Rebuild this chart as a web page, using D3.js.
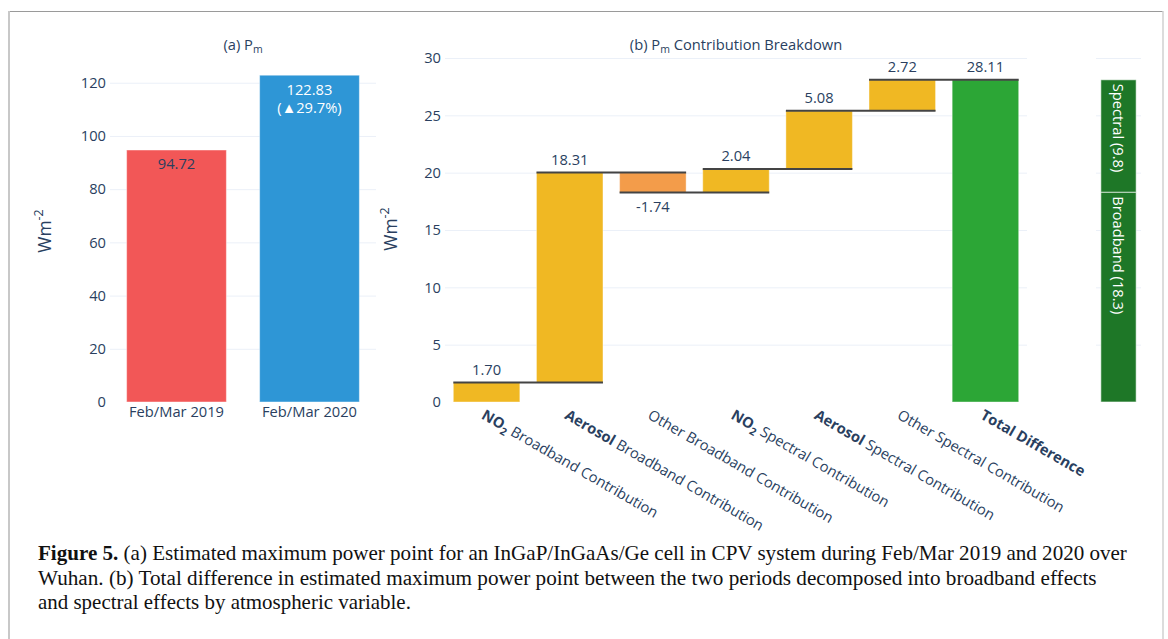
<!DOCTYPE html>
<html>
<head>
<meta charset="utf-8">
<script src="https://cdn.jsdelivr.net/npm/d3@7"></script>
<style>
  html, body { margin: 0; padding: 0; background: #fff; }
  svg { display: block; }
  .tick text { font-family: "Open Sans", sans-serif; font-size: 14.7px; fill: #2a3f5f; }
</style>
</head>
<body>
<svg id="chart" width="1168" height="639"></svg>
<script>
// ---- data ----
const periods = ["Feb/Mar 2019", "Feb/Mar 2020"];
const pmValues = [94.72, 122.83];
const pmTicks = [0, 20, 40, 60, 80, 100, 120];

const contribCategories = [
  "NO2 Broadband Contribution",
  "Aerosol Broadband Contribution",
  "Other Broadband Contribution",
  "NO2 Spectral Contribution",
  "Aerosol Spectral Contribution",
  "Other Spectral Contribution"
];
const totalCategory = "Total Difference";
const contribValues = [1.70, 18.31, -1.74, 2.04, 5.08, 2.72];
const contribTicks = [0, 5, 10, 15, 20, 25, 30];

const splitLabels = ["Broadband", "Spectral"];
const splitValues = [18.3, 9.8];

const captionLines = [
  [["Figure 5.", true], [" (a) Estimated maximum power point for an InGaP/InGaAs/Ge cell in CPV system during Feb/Mar 2019 and 2020 over", false]],
  [["Wuhan. (b) Total difference in estimated maximum power point between the two periods decomposed into broadband effects", false]],
  [["and spectral effects by atmospheric variable.", false]]
];

// ---- styles ----
const textColor = "#2a3f5f";
const gridColor = "#EBF0F8";
const pmColors = ["#F25757", "#2E96D6"];
const riseColor = "#F0B823";
const fallColor = "#F39C4A";
const totalColor = "#2CA636";
const splitColor = "#1E7727";
const font = "'Open Sans', sans-serif";
const fs = 14.7;

const svg = d3.select("#chart");

// frame
svg.append("line").attr("x1", 8).attr("x2", 1163).attr("y1", 11.5).attr("y2", 11.5)
  .attr("stroke", "#9a9a9a").attr("stroke-width", 1);
svg.append("line").attr("x1", 9).attr("x2", 9).attr("y1", 11).attr("y2", 639)
  .attr("stroke", "#c8c8c8").attr("stroke-width", 2);
svg.append("line").attr("x1", 1163).attr("x2", 1163).attr("y1", 11).attr("y2", 639)
  .attr("stroke", "#d0d0d0").attr("stroke-width", 1.5);

const plotTop = 58, plotBottom = 402;

function gridAxis(g, scale, ticks, x0, x1, showLabels, hideZero) {
  const axis = d3.axisLeft(scale).tickValues(ticks).tickSize(-(x1 - x0)).tickPadding(4);
  if (!showLabels) axis.tickFormat("");
  const a = g.append("g").attr("transform", `translate(${x0},0)`).call(axis);
  a.select(".domain").remove();
  a.selectAll(".tick line").attr("stroke", gridColor).attr("stroke-width", 1)
    .attr("opacity", d => (hideZero && d === 0) ? 0 : 1);
  a.selectAll(".tick text").attr("fill", textColor);
  return a;
}

function titleWithSub(x, y, pre, sub, post) {
  const t = svg.append("text").attr("x", x).attr("y", y).attr("text-anchor", "middle")
    .attr("font-family", font).attr("font-size", fs).attr("fill", textColor);
  t.append("tspan").text(pre);
  t.append("tspan").attr("font-size", 10.5).attr("dy", 3).text(sub);
  if (post) t.append("tspan").attr("dy", -3).text(post);
}

function unitTitle(x, y) {
  const t = svg.append("text").attr("transform", `translate(${x},${y}) rotate(-90)`)
    .attr("text-anchor", "middle").attr("font-family", font).attr("font-size", 17.5).attr("fill", textColor);
  t.append("tspan").text("Wm");
  t.append("tspan").attr("font-size", 12.5).attr("dy", -8).text("-2");
}

// ---- (a) Pm ----
const xA = d3.scaleBand().domain(periods).range([110, 376]).paddingInner(0.25).paddingOuter(0.125);
const yA = d3.scaleLinear().domain([0, 129.3]).range([plotBottom, plotTop]);
const gA = svg.append("g");
gridAxis(gA, yA, pmTicks, 110, 376, true, true);

gA.selectAll("rect.pm").data(periods).join("rect")
  .attr("x", d => xA(d)).attr("width", xA.bandwidth())
  .attr("y", (d, i) => yA(pmValues[i])).attr("height", (d, i) => yA(0) - yA(pmValues[i]))
  .attr("fill", (d, i) => pmColors[i])
  .attr("stroke", "rgba(255,255,255,0.45)").attr("stroke-width", 1);

const pctChange = (pmValues[1] / pmValues[0] - 1) * 100;
gA.append("text").attr("x", xA(periods[0]) + xA.bandwidth() / 2).attr("y", yA(pmValues[0]) + 19)
  .attr("text-anchor", "middle").attr("font-family", font).attr("font-size", fs).attr("fill", textColor)
  .text(pmValues[0].toFixed(2));
const lbl2 = gA.append("text").attr("text-anchor", "middle").attr("font-family", font)
  .attr("font-size", fs).attr("fill", "#fff");
const cx2 = xA(periods[1]) + xA.bandwidth() / 2;
lbl2.append("tspan").attr("x", cx2).attr("y", yA(pmValues[1]) + 19.5).text(pmValues[1].toFixed(2));
lbl2.append("tspan").attr("x", cx2).attr("y", yA(pmValues[1]) + 38).text(`(\u25B2${pctChange.toFixed(1)}%)`);

gA.selectAll("text.xlab").data(periods).join("text")
  .attr("x", d => xA(d) + xA.bandwidth() / 2).attr("y", 417)
  .attr("text-anchor", "middle").attr("font-family", font).attr("font-size", fs).attr("fill", textColor)
  .text(d => d);

titleWithSub(243, 50, "(a) P", "m");
unitTitle(51, 231);

// ---- (b) waterfall ----
const allCats = contribCategories.concat([totalCategory]);
const xB = d3.scaleBand().domain(allCats).range([445, 1027]).paddingInner(0.2).paddingOuter(0.1);
const yB = d3.scaleLinear().domain([0, 30]).range([plotBottom, plotTop]);
const gB = svg.append("g");
gridAxis(gB, yB, contribTicks, 445, 1027, true, true);

let running = 0;
const steps = contribValues.map((v, i) => {
  const start = running; running += v;
  return { cat: contribCategories[i], v, start, end: running };
});
const total = running;
steps.push({ cat: totalCategory, v: total, start: 0, end: total, isTotal: true });

gB.selectAll("rect.step").data(steps).join("rect")
  .attr("x", d => xB(d.cat)).attr("width", xB.bandwidth())
  .attr("y", d => yB(Math.max(d.start, d.end)))
  .attr("height", d => Math.abs(yB(d.start) - yB(d.end)))
  .attr("fill", d => d.isTotal ? totalColor : (d.v >= 0 ? riseColor : fallColor))
  .attr("stroke", "rgba(255,255,255,0.4)").attr("stroke-width", 1);

// connectors at each running level
const connectors = steps.slice(0, -1).map((d, i) => ({ level: d.end, a: d.cat, b: steps[i + 1].cat }));
gB.selectAll("line.conn").data(connectors).join("line")
  .attr("x1", d => xB(d.a)).attr("x2", d => xB(d.b) + xB.bandwidth())
  .attr("y1", d => yB(d.level)).attr("y2", d => yB(d.level))
  .attr("stroke", "#444").attr("stroke-width", 2);

gB.selectAll("text.val").data(steps).join("text")
  .attr("x", d => xB(d.cat) + xB.bandwidth() / 2)
  .attr("y", d => d.v >= 0 ? yB(d.end) - 8 : yB(d.end) + 19.5)
  .attr("text-anchor", "middle").attr("font-family", font).attr("font-size", fs).attr("fill", textColor)
  .text(d => d.v.toFixed(2));

// rotated category labels with bold lead words
const catLabels = gB.selectAll("text.cat").data(allCats).join("text")
  .attr("transform", d => `translate(${xB(d) + xB.bandwidth() / 2 - 6},418) rotate(30)`)
  .attr("font-family", font).attr("font-size", fs).attr("fill", textColor);
catLabels.each(function (d) {
  const t = d3.select(this);
  if (d === totalCategory) {
    t.append("tspan").attr("font-weight", "bold").text(d);
  } else if (d.startsWith("NO2")) {
    t.append("tspan").attr("font-weight", "bold").text("NO");
    t.append("tspan").attr("font-weight", "bold").attr("font-size", 10.5).attr("dy", 4).text("2");
    t.append("tspan").attr("dy", -4).text(d.slice(3));
  } else if (d.startsWith("Aerosol")) {
    t.append("tspan").attr("font-weight", "bold").text("Aerosol");
    t.append("tspan").text(d.slice(7));
  } else {
    t.append("tspan").text(d);
  }
});

titleWithSub(736, 50, "(b) P", "m", " Contribution Breakdown");
unitTitle(397, 229);

// ---- broadband / spectral split ----
const xC = d3.scaleBand().domain(["split"]).range([1096, 1141]).paddingInner(0.2).paddingOuter(0.11);
const gC = svg.append("g");
gridAxis(gC, yB, contribTicks, 1096, 1141, false, true);

let acc = 0;
const segs = splitValues.map((v, i) => { const s = acc; acc += v; return { label: splitLabels[i], v, s, e: acc }; });
gC.selectAll("rect.seg").data(segs).join("rect")
  .attr("x", xC("split")).attr("width", xC.bandwidth())
  .attr("y", d => yB(d.e)).attr("height", d => yB(d.s) - yB(d.e))
  .attr("fill", splitColor).attr("stroke", "rgba(255,255,255,0.6)").attr("stroke-width", 1);
gC.selectAll("text.seg").data(segs).join("text")
  .attr("transform", d => `translate(${xC("split") + xC.bandwidth() / 2},${yB(d.e) + 4}) rotate(90)`)
  .attr("dominant-baseline", "central")
  .attr("font-family", font).attr("font-size", fs).attr("fill", "#fff")
  .text(d => `${d.label} (${d.v.toFixed(1)})`);

// ---- caption ----
const capWidths = [1090, 1059, 373];
const capBase = [560, 585, 609];
captionLines.forEach((parts, i) => {
  const g = svg.append("g").attr("transform", `translate(38,${capBase[i]})`);
  const t = g.append("text").attr("font-family", "'Liberation Serif', serif")
    .attr("font-size", 20.5).attr("fill", "#111");
  parts.forEach(([s, b]) => t.append("tspan").attr("font-weight", b ? "bold" : "normal").text(s));
  const w = t.node().getComputedTextLength();
  t.attr("transform", `scale(${capWidths[i] / w},1)`);
});
</script>
</body>
</html>
